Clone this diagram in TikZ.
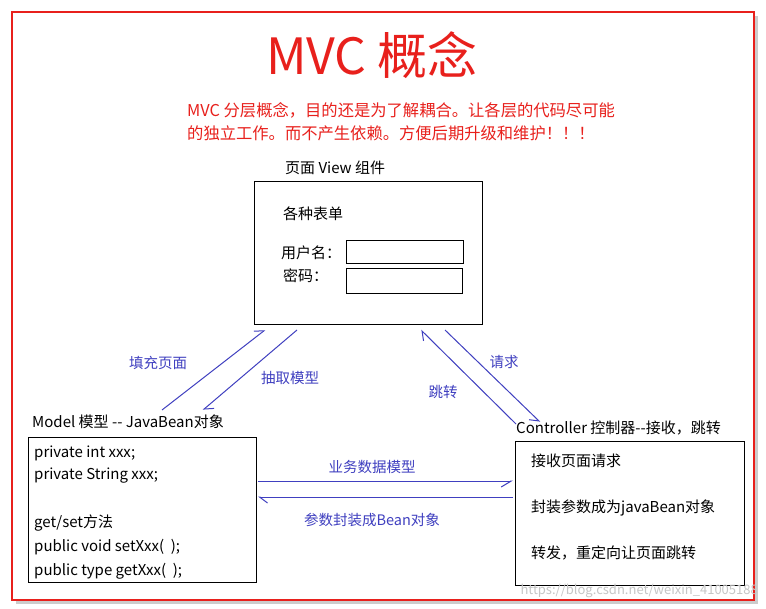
\documentclass[tikz,border=0pt]{standalone}
\usepackage{fontspec}
\setmainfont{Noto Sans CJK SC}
\usetikzlibrary{arrows.meta}
\definecolor{ab}{HTML}{4040C0}
\definecolor{rd}{HTML}{E8201C}
\tikzset{
 txt/.style={anchor=west,inner sep=0pt,font=\fontsize{15}{16}\selectfont},
 lbl/.style={inner sep=0pt,text=ab,font=\fontsize{14.5}{16}\selectfont},
 boxx/.style={draw,line width=1pt},
 arr/.style={draw=ab,line width=1pt,-{Straight Barb[harpoon,length=8pt,width=12pt]}},
}
\begin{document}
\begin{tikzpicture}[x=1pt,y=-1pt]
\useasboundingbox (0,0) rectangle (766,609);
\fill[gray!40] (16,16) rectangle (758,604);
\draw[rd,line width=2.5pt,fill=white] (12,12) rectangle (754,600);
\node[text=rd,font=\fontsize{50}{56}\selectfont] (title) at (372,55) {MVC 概念};
\node[txt,text=rd,font=\fontsize{16.3}{18}\selectfont] (s1) at (187,110) {MVC 分层概念，目的还是为了解耦合。让各层的代码尽可能};
\node[txt,text=rd,font=\fontsize{16.3}{18}\selectfont] (s2) at (187,133) {的独立工作。而不产生依赖。方便后期升级和维护！！！};
\node[txt] (vl) at (285,168) {页面 View 组件};
\draw[boxx] (254,182) rectangle (482,325);
\coordinate (vb1) at (265,330); \coordinate (vb2) at (297,330);
\coordinate (vb3) at (421,330); \coordinate (vb4) at (445,330);
\node[txt] (f) at (283,214) {各种表单};
\node[txt] (u) at (281,253) {用户名：};
\node[draw,line width=1pt,minimum width=117pt,minimum height=23pt,anchor=north west] (ub) at (346,240) {};
\node[txt] (p) at (283,276) {密码：};
\node[draw,line width=1pt,minimum width=116pt,minimum height=25pt,anchor=north west] (pb) at (346,268) {};
\node[txt] (ml) at (32,422) {Model 模型 {-}{-} JavaBean对象};
\draw[boxx] (28,438) rectangle (256,582);
\node[txt] at (34,453) {private int xxx;};
\node[txt] at (34,476) {private String xxx;};
\node[txt] at (34,523) {get/set方法};
\node[txt] at (34,547) {public void setXxx(\ \ );};
\node[txt] at (34,571) {public type getXxx(\ \ );};
\node[txt] (cl) at (516,428) {Controller 控制器{-}{-}接收，跳转};
\draw[boxx] (515,442) rectangle (744,585);
\node[txt] at (531,461) {接收页面请求};
\node[txt] at (531,508) {封装参数成为javaBean对象};
\node[txt] at (531,553) {转发，重定向让页面跳转};
\coordinate (m1) at (162,410); \coordinate (m2) at (203,410);
\coordinate (c1) at (516,424); \coordinate (c2) at (540,422);
\coordinate (mh1) at (258,481); \coordinate (ch1) at (513,481);
\coordinate (ch2) at (513,497); \coordinate (mh2) at (258,497);
\draw[arr] (m1) -- (vb1);
\draw[arr] (vb2) -- (m2);
\draw[arr] (c1) -- (vb3);
\draw[arr,-{Straight Barb[harpoon,swap,length=8pt,width=12pt]}] (vb4) -- (c2);
\draw[arr,-{Straight Barb[harpoon,swap,length=10pt,width=12pt]}] (mh1) -- (ch1);
\draw[arr] (ch2) -- (mh2);
\node[lbl] at (158,363) {填充页面};
\node[lbl] at (290,378) {抽取模型};
\node[lbl] at (443,392) {跳转};
\node[lbl] at (504,362) {请求};
\node[lbl] at (372,467) {业务数据模型};
\node[lbl] at (372,520) {参数封装成Bean对象};
\node[anchor=east,inner sep=0pt,text=gray!45,font=\fontsize{13}{14}\selectfont] at (758,591) {https://blog.csdn.net/weixin\_41005188};
\end{tikzpicture}
\end{document}
